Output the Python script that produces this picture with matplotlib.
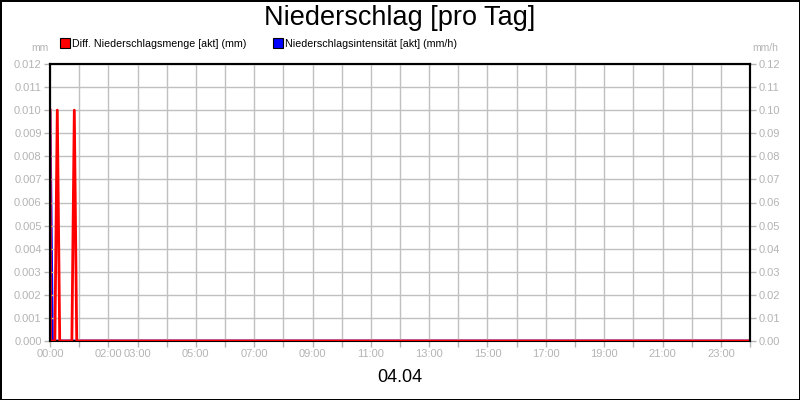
import matplotlib
matplotlib.use("Agg")
import matplotlib.pyplot as plt
from matplotlib.lines import Line2D

plt.rcParams['font.family'] = ['Liberation Sans', 'DejaVu Sans']

# data: minutes after midnight
menge_t = [0, 1, 10, 15, 20, 45, 50, 55, 1440]
menge_mm = [0.010, 0.0, 0.0, 0.010, 0.0, 0.0, 0.010, 0.0, 0.0]
intens_t = [0, 5, 1440]
intens_mmh = [0.10, 0.0, 0.0]

hour_ticks = list(range(0, 25))
hour_labels = ["00:00", "", "02:00", "03:00", "", "05:00", "", "07:00", "", "09:00", "",
               "11:00", "", "13:00", "", "15:00", "", "17:00", "", "19:00", "", "21:00",
               "", "23:00", ""]
left_ticks = [i / 1000 for i in range(13)]
right_ticks = [i / 100 for i in range(13)]

grey = "#b4b4b4"

fig = plt.figure(figsize=(8, 4), dpi=100)
fig.patch.set_edgecolor("black")
fig.patch.set_linewidth(2)
ax = fig.add_axes([50/800, 1-341/400, 700/800, 277/400])
ax2 = ax.twinx()
ax.set_zorder(ax2.get_zorder() + 1)
ax.patch.set_visible(False)

ax2.plot([t/60 for t in intens_t], intens_mmh, color="blue", lw=2)
ax.plot([t/60 for t in menge_t], menge_mm, color="red", lw=2)

ax.set_xlim(0, 24)
ax.set_ylim(0, 0.012)
ax2.set_ylim(0, 0.12)
ax.set_xticks(hour_ticks)
ax.set_xticklabels(hour_labels)
ax.set_yticks(left_ticks)
ax.set_yticklabels(["%.3f" % v for v in left_ticks])
ax2.set_yticks(right_ticks)
ax2.set_yticklabels(["%.2f" % v for v in right_ticks])
ax.grid(True, color="#c0c0c0", lw=1)
ax.set_axisbelow(True)
for a in (ax, ax2):
    a.tick_params(colors=grey, labelsize=8, length=4, width=1, pad=2)
    for s in a.spines.values():
        s.set_color("black")
        s.set_linewidth(1.5)
ax.spines["bottom"].set_zorder(1)
ax2.spines["bottom"].set_visible(False)

fig.text(0.5, 1-18/400, "Niederschlag [pro Tag]", ha="center", va="center", fontsize=19.5)
fig.text(0.5, 1-378/400, "04.04", ha="center", va="center", fontsize=13)
fig.text(40/800, 1-48/400, "mm", ha="center", va="center", fontsize=7.5, color=grey)
fig.text(765/800, 1-48/400, "mm/h", ha="center", va="center", fontsize=7.5, color=grey)

handles = [Line2D([], [], ls="", marker="s", ms=7, mfc="red", mec="black", mew=0.8),
           Line2D([], [], ls="", marker="s", ms=7, mfc="blue", mec="black", mew=0.8)]
fig.legend(handles, ["Diff. Niederschlagsmenge [akt] (mm)", "Niederschlagsintensität [akt] (mm/h)"],
           loc="center left", bbox_to_anchor=(55/800, 1-44/400), ncol=2, frameon=False,
           fontsize=7.7, handlelength=0.8, handletextpad=0.3, columnspacing=2.5, borderpad=0)

fig.savefig("out.png", dpi=100)
